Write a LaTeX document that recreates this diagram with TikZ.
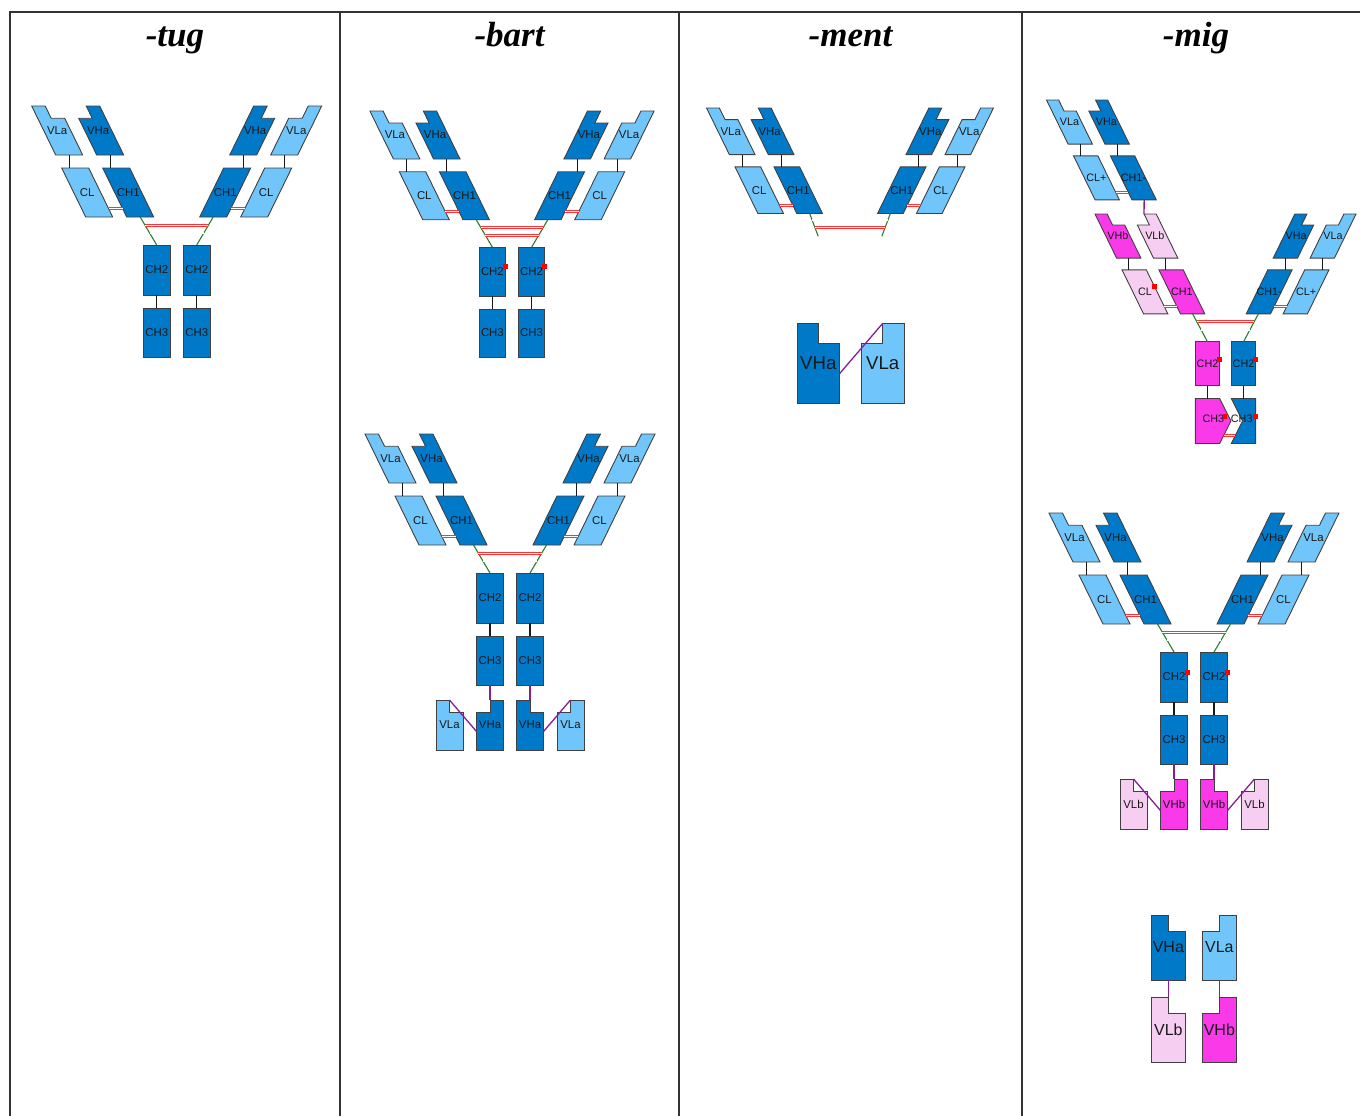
\documentclass[tikz,border=0pt]{standalone}
\usepackage{fontspec}
\setmainfont{Liberation Serif}
\newfontfamily\labfont{Liberation Sans}
\usetikzlibrary{calc}

\definecolor{hblue}{RGB}{0,121,201}
\definecolor{lblue}{RGB}{112,198,250}
\definecolor{hmag}{RGB}{250,58,232}
\definecolor{lpink}{RGB}{246,206,241}
\definecolor{hingegreen}{RGB}{40,128,40}
\definecolor{linkpurple}{RGB}{136,30,150}

\tikzset{
  dom/.style={draw=black!75, line width=0.45pt},
  lab/.style={font=\labfont\fontsize{5.7}{6}\selectfont, text=black!90, inner sep=0pt},
  conn/.style={draw=black!90, line width=0.6pt},
  hinge/.style={draw=hingegreen, line width=0.55pt},
  ssbond/.style={draw=red!80, line width=0.4pt, double=white, double distance=0.6pt},
  linker/.style={draw=linkpurple, line width=0.65pt},
  head/.style={font=\bfseries\itshape\fontsize{17.5}{20}\selectfont, anchor=base},
  tableline/.style={draw=black!80, line width=0.75pt},
}

\def\domw{27}\def\domh{49}\def\doms{24}

% name, fill, x, y (top left), notch (0 none, 1 right, 2 left), label
\newcommand{\domain}[6]{%
  \pgfmathsetmacro{\xr}{#3+\domw}%
  \pgfmathsetmacro{\xm}{#3+\domw/2}%
  \pgfmathsetmacro{\yb}{#4+\domh}%
  \pgfmathsetmacro{\yn}{#4+0.25*\domh}%
  \pgfmathsetmacro{\sn}{0.25*\doms}%
  \coordinate (#1-nw) at (#3,#4);
  \coordinate (#1-ne) at (\xr,#4);
  \coordinate (#1-sw) at (#3+\doms,\yb);
  \coordinate (#1-se) at (\xr+\doms,\yb);
  \coordinate (#1-n) at (\xm,#4);
  \coordinate (#1-s) at (\xm+\doms,\yb);
  \ifcase#5\relax
    \filldraw[dom,fill=#2] (#1-nw) -- (#1-ne) -- (#1-se) -- (#1-sw) -- cycle;
  \or
    \filldraw[dom,fill=#2] (#1-nw) -- (#1-n) -- (\xm+\sn,\yn) -- (\xr+\sn,\yn) -- (#1-se) -- (#1-sw) -- cycle;
  \or
    \filldraw[dom,fill=#2] (#3+\sn,\yn) -- (\xm+\sn,\yn) -- (#1-n) -- (#1-ne) -- (#1-se) -- (#1-sw) -- cycle;
  \fi
  \node[lab] (#1) at (\xm+\doms/2,#4+\domh/2) {#6};
}

% one Fab arm, left side: outer V, inner V, outer C, inner C
\newcommand{\fabarm}[9]{%
  \domain{#1v1}{#2}{-145}{0}{1}{#3}
  \domain{#1v2}{#4}{-104}{0}{2}{#5}
  \domain{#1c1}{#6}{-115}{62}{0}{#7}
  \domain{#1c2}{#8}{-74}{62}{0}{#9}
  \draw[conn] (#1v1-s) -- (#1v1-s |- #1c1-n);
  \draw[conn] (#1v2-s) -- (#1v2-s |- #1c2-n);
  \draw[ssbond] ($(#1c1-ne)!.83!(#1c1-se)$) -- ($(#1c2-nw)!.83!(#1c2-sw)$);
}

% CH2/CH3 stem with hinge
\newcommand{\fcpart}[1]{%
  \def\doms{0}\def\domh{50}%
  \domain{#1a2}{hblue}{-33.5}{139}{0}{CH2}
  \domain{#1b2}{hblue}{6.5}{139}{0}{CH2}
  \def\domh{49}%
  \domain{#1a3}{hblue}{-33.5}{202}{0}{CH3}
  \domain{#1b3}{hblue}{6.5}{202}{0}{CH3}
  \draw[conn] (#1a2-s) -- (#1a3-n);
  \draw[conn] (#1b2-s) -- (#1b3-n);
  \draw[hinge] (#1Lc2-s) -- (#1a2-n);
  \draw[hinge] (#1Rc2-s) -- (#1b2-n);
  \draw[ssbond] ($(#1Lc2-s)!.29!(#1a2-n)$) -- ($(#1Rc2-s)!.29!(#1b2-n)$);
  \draw[ssbond] ($(#1Lc2-s)!.57!(#1a2-n)$) -- ($(#1Rc2-s)!.57!(#1b2-n)$);
  \def\doms{24}%
}

% V domains hanging below CH3
\newcommand{\tailpart}[5]{%
  \def\doms{0}\def\domh{50}%
  \domain{#1tl}{#2}{-74}{266}{1}{#3}
  \domain{#1ta}{#4}{-33.5}{266}{2}{#5}
  \domain{#1tb}{#4}{6.5}{266}{1}{#5}
  \domain{#1tr}{#2}{47}{266}{2}{#3}
  \draw[linker] (#1a3-s) -- (#1ta-n);
  \draw[linker] (#1b3-s) -- (#1tb-n);
  \draw[linker] ($(#1ta-nw)!.63!(#1ta-sw)$) -- (#1tl-n);
  \draw[linker] ($(#1tb-ne)!.63!(#1tb-se)$) -- (#1tr-n);
  \def\doms{24}\def\domh{49}%
}

\newcommand{\ssdot}[1]{\fill[red] (#1) ++(-2.5,-2.5) rectangle ++(5,5);}

\begin{document}
\begin{tikzpicture}[x=0.5pt, y=-0.5pt]
  \useasboundingbox (0,0) rectangle (1360,1116);
  \draw[tableline] (10,1116) -- (10,12) -- (1360,12);
  \draw[tableline] (340,12) -- (340,1116);
  \draw[tableline] (679,12) -- (679,1116);
  \draw[tableline] (1022,12) -- (1022,1116);
  \node[head] (hTug) at (175,46) {-tug};
  \node[head] (hBart) at (509.5,46) {-bart};
  \node[head] (hMent) at (850.5,46) {-ment};
  \node[head] (hMig) at (1196,46) {-mig};

  % -tug
  \begin{scope}[shift={(176.7,106)}]
    \fabarm{tL}{lblue}{VLa}{hblue}{VHa}{lblue}{CL}{hblue}{CH1}
    \begin{scope}[xscale=-1]
      \fabarm{tR}{lblue}{VLa}{hblue}{VHa}{lblue}{CL}{hblue}{CH1}
    \end{scope}
    \fcpart{t}
  \end{scope}

  % -bart
  \begin{scope}[shift={(512,111)}, scale=0.98]
    \fabarm{bL}{lblue}{VLa}{hblue}{VHa}{lblue}{CL}{hblue}{CH1}
    \begin{scope}[xscale=-1]
      \fabarm{bR}{lblue}{VLa}{hblue}{VHa}{lblue}{CL}{hblue}{CH1}
    \end{scope}
    \fcpart{b}
    \ssdot{$(ba2-ne)!.4!(ba2-se)$}
    \ssdot{$(bb2-ne)!.4!(bb2-se)$}
  \end{scope}
  \begin{scope}[shift={(510,434)}]
    \fabarm{kL}{lblue}{VLa}{hblue}{VHa}{lblue}{CL}{hblue}{CH1}
    \begin{scope}[xscale=-1]
      \fabarm{kR}{lblue}{VLa}{hblue}{VHa}{lblue}{CL}{hblue}{CH1}
    \end{scope}
    \fcpart{k}
    \tailpart{k}{lblue}{VLa}{hblue}{VHa}
  \end{scope}

  % -ment
  \begin{scope}[shift={(850,108)}, scale=0.95]
    \begin{scope}[shift={(-6,0)}]
      \fabarm{nL}{lblue}{VLa}{hblue}{VHa}{lblue}{CL}{hblue}{CH1}
    \end{scope}
    \begin{scope}[xscale=-1, shift={(-6,0)}]
      \fabarm{nR}{lblue}{VLa}{hblue}{VHa}{lblue}{CL}{hblue}{CH1}
    \end{scope}
    \coordinate (nHl) at (-33.5,135);
    \coordinate (nHr) at (33.5,135);
    \draw[hinge] (nLc2-s) -- (nHl);
    \draw[hinge] (nRc2-s) -- (nHr);
    \draw[ssbond] ($(nLc2-s)!.29!(nHl)$) -- ($(nRc2-s)!.29!(nHr)$);
    \draw[ssbond] ($(nLc2-s)!.62!(nHl)$) -- ($(nRc2-s)!.62!(nHr)$);
  \end{scope}
  \begin{scope}[lab/.style={font=\labfont\fontsize{9.3}{10}\selectfont, text=black!90, inner sep=0pt}]
    \def\domw{42.5}\def\domh{80}\def\doms{0}
    \domain{nva}{hblue}{797}{323.3}{1}{VHa}
    \domain{nvl}{lblue}{861.5}{323.3}{2}{VLa}
    \draw[linker] ($(nva-ne)!.63!(nva-se)$) -- (nvl-n);
  \end{scope}

  % -mig
  \begin{scope}[lab/.style={font=\labfont\fontsize{5.4}{6}\selectfont, text=black!90, inner sep=0pt}]
    \begin{scope}[shift={(1177,100)}, scale=0.9]
      \fabarm{gU}{lblue}{VLa}{hblue}{VHa}{lblue}{CL+}{hblue}{CH1-}
    \end{scope}
    \begin{scope}[shift={(1225.5,214)}, scale=0.9]
      \fabarm{gL}{hmag}{VHb}{lpink}{VLb}{lpink}{CL}{hmag}{CH1}
      \begin{scope}[xscale=-1]
        \fabarm{gR}{lblue}{VLa}{hblue}{VHa}{lblue}{CL+}{hblue}{CH1-}
      \end{scope}
      \def\doms{0}
      \domain{ga2}{hmag}{-33.5}{142}{0}{CH2}
      \domain{gb2}{hblue}{6.5}{142}{0}{CH2}
      \coordinate (ga3-n) at (-20,205);
      \coordinate (gb3-n) at (20,205);
      \coordinate (gKt) at (6,230);
      \coordinate (gKb) at (-6.5,255);
      \coordinate (gHt) at (19,230);
      \coordinate (gHb) at (6.5,255);
      \filldraw[dom,fill=hmag] (-33.5,205) -- (-6.5,205) -- (gKt) -- (gKb) -- (-33.5,255) -- cycle;
      \filldraw[dom,fill=hblue] (6.5,205) -- (33.5,205) -- (33.5,255) -- (gHb) -- (gHt) -- cycle;
      \node[lab] (ga3) at (-13.5,227) {CH3};
      \node[lab] (gb3) at (18,227) {CH3};
      \draw[conn] (ga2-s) -- (ga3-n);
      \draw[conn] (gb2-s) -- (gb3-n);
      \draw[hinge] (gLc2-s) -- (ga2-n);
      \draw[hinge] (gRc2-s) -- (gb2-n);
      \draw[ssbond] ($(gLc2-s)!.28!(ga2-n)$) -- ($(gRc2-s)!.28!(gb2-n)$);
      \draw[ssbond] ($(gLc2-s)!.58!(ga2-n)$) -- ($(gRc2-s)!.58!(gb2-n)$);
      \draw[ssbond] ($(gKt)!.65!(gKb)$) -- ($(gHt)!.65!(gHb)$);
      \ssdot{$(gLc1-ne)!.38!(gLc1-se)$}
      \ssdot{$(ga2-ne)!.4!(ga2-se)$}
      \ssdot{$(gb2-ne)!.4!(gb2-se)$}
      \ssdot{-0.5,225}
      \ssdot{33.5,225}
    \end{scope}
    \draw[linker] (gUc2-s) -- (gLv2-n);
  \end{scope}
  \begin{scope}[shift={(1194,513)}]
    \fabarm{mL}{lblue}{VLa}{hblue}{VHa}{lblue}{CL}{hblue}{CH1}
    \begin{scope}[xscale=-1]
      \fabarm{mR}{lblue}{VLa}{hblue}{VHa}{lblue}{CL}{hblue}{CH1}
    \end{scope}
    \fcpart{m}
    \ssdot{$(ma2-ne)!.4!(ma2-se)$}
    \ssdot{$(mb2-ne)!.4!(mb2-se)$}
    \tailpart{m}{lpink}{VLb}{hmag}{VHb}
  \end{scope}
  \begin{scope}[lab/.style={font=\labfont\fontsize{8}{9}\selectfont, text=black!90, inner sep=0pt}]
    \def\domw{33.3}\def\domh{65}\def\doms{0}
    \domain{xva}{hblue}{1151.7}{915}{1}{VHa}
    \domain{xvl}{lblue}{1202.7}{915}{2}{VLa}
    \domain{xlb}{lpink}{1151.7}{997}{1}{VLb}
    \domain{xhb}{hmag}{1202.7}{997}{2}{VHb}
    \draw[linker] (xva-s) -- (xlb-n);
    \draw[linker] (xvl-s) -- (xhb-n);
  \end{scope}
\end{tikzpicture}
\end{document}
